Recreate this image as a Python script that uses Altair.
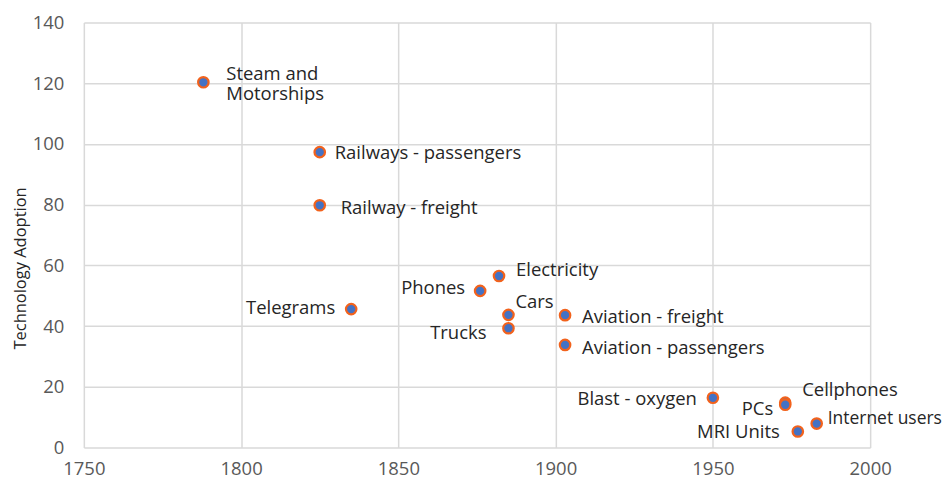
import altair as alt
import pandas as pd

names = ["Steam and\nMotorships", "Railways - passengers", "Railway - freight", "Telegrams",
         "Phones", "Electricity", "Cars", "Trucks", "Aviation - freight",
         "Aviation - passengers", "Blast - oxygen", "Cellphones", "PCs", "MRI Units",
         "Internet users"]
years = [1788, 1825, 1825, 1835, 1876, 1882, 1885, 1885, 1903, 1903, 1950, 1973, 1973, 1977, 1983]
adoption = [120.3, 97.3, 79.8, 45.6, 51.6, 56.5, 43.7, 39.3, 43.6, 33.8, 16.4, 14.8, 14.1, 5.3, 7.9]

df = pd.DataFrame({"name": names, "year": years, "adoption": adoption})

# label placement (style): align, dx, dy, font size
placement = {
    "Steam and\nMotorships": ("left", 23, -8, 18.5),
    "Railways - passengers": ("left", 15, 1, 18.5),
    "Railway - freight": ("left", 21, 3, 18.5),
    "Telegrams": ("right", -16, -1, 18.5),
    "Phones": ("right", -15, -3, 18.5),
    "Electricity": ("left", 17, -6, 18.5),
    "Cars": ("left", 7, -13, 18.5),
    "Trucks": ("right", -22, 5, 18.5),
    "Aviation - freight": ("left", 17, 2, 18.5),
    "Aviation - passengers": ("left", 17, 3, 18.5),
    "Blast - oxygen": ("right", -16, 1, 18.5),
    "Cellphones": ("left", 17, -13, 18.5),
    "PCs": ("right", -12, 4, 18.5),
    "MRI Units": ("right", -18, 1, 18.5),
    "Internet users": ("left", 11, -5, 17.5),
}

xs = alt.Scale(domain=[1750, 2000], nice=False, zero=False)
ys = alt.Scale(domain=[0, 140], nice=False)

base = alt.Chart(df)

points = base.mark_point(
    filled=True, shape="circle", size=110, fill="#4472C4", stroke="#F2621C",
    strokeWidth=2.2, opacity=1
).encode(
    x=alt.X("year:Q", scale=xs, title=None,
            axis=alt.Axis(values=[1750, 1800, 1850, 1900, 1950, 2000], format="d",
                          labelFont="Open Sans", labelFontSize=18.5, labelColor="#595959",
                          labelPadding=12, labelFlush=False, ticks=False, domain=False,
                          grid=True, gridColor="#d9d9d9", gridWidth=1.5)),
    y=alt.Y("adoption:Q", scale=ys, title="Technology Adoption",
            axis=alt.Axis(values=[0, 20, 40, 60, 80, 100, 120, 140],
                          labelFont="Open Sans", labelFontSize=18.5, labelColor="#595959",
                          labelPadding=20, labelFlush=False, ticks=False, domain=False,
                          grid=True, gridColor="#d9d9d9", gridWidth=1.5,
                          titleFont="Open Sans", titleFontSize=16.5, titleFontWeight="normal",
                          titleColor="#262626", titlePadding=4, titleY=246)),
)

layers = [points]
for n, (al, dx, dy, fs) in placement.items():
    layers.append(
        base.transform_filter(alt.datum.name == n).mark_text(
            align=al, baseline="middle", dx=dx, dy=dy, font="Open Sans",
            fontSize=fs, color="#262626", lineBreak="\n", lineHeight=20
        ).encode(
            x=alt.X("year:Q", scale=xs),
            y=alt.Y("adoption:Q", scale=ys),
            text="name:N",
        )
    )

chart = alt.layer(*layers).properties(
    width=788, height=426,
    autosize=alt.AutoSizeParams(type="none"),
    padding={"left": 76, "top": 14, "right": 72, "bottom": 31},
).configure_view(stroke=None)

chart.save("out.html", embed_options={"renderer": "svg", "actions": False})
